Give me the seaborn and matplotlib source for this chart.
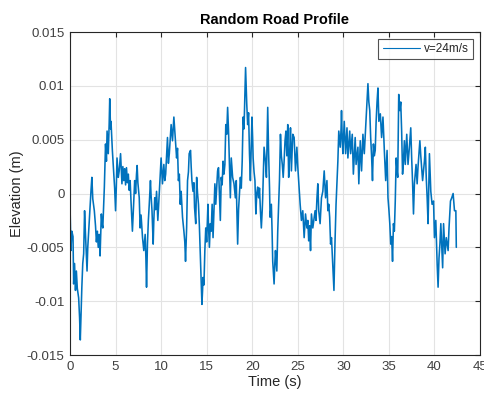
import matplotlib
matplotlib.use("Agg")
import matplotlib.pyplot as plt
import seaborn as sns
import pandas as pd

# time (s) and elevation (mm)
time_s = [
    0.0, 0.1, 0.2, 0.33, 0.4, 0.5, 0.6, 0.7, 0.8, 0.95, 1.05, 1.13, 1.22, 1.3, 1.4, 1.5, 1.6, 1.7, 1.87, 1.95,
    2.05, 2.15, 2.3, 2.4, 2.5, 2.67, 2.8, 2.9, 3.0, 3.1, 3.2, 3.3, 3.44, 3.52, 3.6, 3.77, 3.9, 4.0, 4.07, 4.2,
    4.3, 4.36, 4.45, 4.5, 4.65, 4.8, 4.9, 5.0, 5.08, 5.16, 5.3, 5.4, 5.55, 5.7, 5.8, 5.9, 6.0, 6.1, 6.2, 6.3,
    6.4, 6.5, 6.6, 6.7, 6.85,
    6.93, 7.0, 7.1, 7.2, 7.3, 7.37, 7.45, 7.6, 7.7, 7.8, 7.96, 8.1, 8.25, 8.33, 8.4, 8.5, 8.6, 8.7, 8.83, 8.9,
    9.0, 9.13, 9.2, 9.3, 9.4, 9.5, 9.64, 9.8, 9.9, 10.0, 10.15, 10.3, 10.4, 10.5, 10.6, 10.7, 10.8, 10.9, 11.0, 11.1,
    11.25, 11.4, 11.55, 11.7, 11.8, 11.9, 12.0, 12.1, 12.2, 12.35, 12.5, 12.6, 12.68, 12.8, 12.9, 13.0, 13.08, 13.23, 13.3, 13.38,
    13.5, 13.6, 13.67, 13.8, 13.9, 14.0, 14.1,
    14.2, 14.3, 14.37, 14.48, 14.55, 14.6, 14.7, 14.8, 14.9, 15.0, 15.14, 15.2, 15.3, 15.4, 15.5, 15.6, 15.7, 15.8, 15.9, 16.0,
    16.1, 16.2, 16.3, 16.4, 16.5, 16.6, 16.7, 16.8, 16.9, 17.0, 17.1, 17.2, 17.3, 17.4, 17.5, 17.6, 17.7, 17.85, 18.0, 18.15,
    18.25, 18.3, 18.4, 18.5, 18.6, 18.7, 18.8, 18.9, 19.0, 19.1, 19.2, 19.27, 19.35, 19.4, 19.5, 19.6, 19.7, 19.8, 19.9, 19.97,
    20.05, 20.1, 20.2, 20.3, 20.4, 20.5, 20.6, 20.7, 20.8, 20.9, 21.0, 21.1, 21.15, 21.3,
    21.45, 21.56, 21.63, 21.7, 21.8, 21.9, 21.96, 22.1, 22.18, 22.25, 22.4, 22.48, 22.55, 22.7, 22.8, 22.9, 22.99, 23.1, 23.2, 23.3,
    23.4, 23.5, 23.6, 23.7, 23.8, 23.9, 24.0, 24.1, 24.2, 24.3, 24.45, 24.6, 24.75, 24.9, 25.0, 25.1, 25.26, 25.4, 25.55, 25.7,
    25.85, 26.0, 26.1, 26.2, 26.3, 26.4, 26.5, 26.65, 26.8, 26.9, 27.0, 27.1, 27.2, 27.3, 27.45, 27.6, 27.75, 27.9, 28.05, 28.2,
    28.3, 28.4, 28.5, 28.6,
    28.7, 28.78, 28.85, 28.97, 29.08, 29.2, 29.3, 29.4, 29.5, 29.58, 29.66, 29.75, 29.8, 29.88, 29.95, 30.1, 30.25, 30.4, 30.5, 30.6,
    30.7, 30.8, 30.98, 31.1, 31.2, 31.3, 31.4, 31.6, 31.7, 31.86, 32.0, 32.15, 32.3, 32.45, 32.6, 32.7, 32.8, 32.9, 33.0, 33.1,
    33.2, 33.3, 33.4, 33.5, 33.6, 33.7, 33.8, 33.9, 34.06, 34.2, 34.35, 34.5, 34.65, 34.8, 34.9, 35.0, 35.1, 35.2, 35.3, 35.4,
    35.5, 35.6, 35.7, 35.8, 35.9,
    35.97, 36.08, 36.2, 36.3, 36.4, 36.5, 36.6, 36.7, 36.8, 36.96, 37.1, 37.25, 37.4, 37.5, 37.6, 37.7, 37.8, 37.98, 38.1, 38.2,
    38.3, 38.4, 38.5, 38.6, 38.7, 38.9, 39.0, 39.1, 39.2, 39.3, 39.45, 39.6, 39.74, 39.9, 40.0, 40.15, 40.3, 40.4, 40.5, 40.6,
    40.7, 40.9, 41.0, 41.17, 41.3, 41.5, 41.6, 41.76, 41.9, 42.05, 42.2, 42.35, 42.4,
]
elevation_mm = [
    -1.0, -5.3, -3.5, -4.0, -8.4, -6.5, -9.0, -7.2, -8.8, -9.7, -11.5, -13.6, -11.0, -8.7, -6.5, -5.6, -1.6, -3.8, -7.2, -5.0,
    -3.5, -2.0, 0.2, 1.5, -0.5, -1.6, -3.0, -4.5, -3.5, -5.0, -3.8, -5.8, -1.9, -2.8, -3.2, 0.6, 4.6, 3.0, 5.8, 3.7,
    6.5, 8.8, 6.0, 6.7, 4.0, 1.8, 0.5, -1.6, 0.5, 3.3, 1.5, 2.1, 3.7, 0.9, 2.5, 1.2, 2.3, 0.8, 2.4, 1.0,
    1.8, 0.3, 1.2, -0.8, -3.5,
    -2.0, -0.5, 1.2, 0.0, 1.8, 2.6, 1.0, -0.4, -3.2, -2.0, -4.1, -5.3, -3.8, -6.0, -8.7, -4.7, -2.5, -1.0, 1.2, -0.2,
    -1.6, -4.7, -2.5, -0.4, -1.5, 0.2, -2.5, 0.0, 1.5, 3.3, 0.9, 2.7, 1.2, 1.8, 3.5, 5.2, 2.8, 3.7, 5.0, 6.4,
    4.9, 7.1, 5.2, 3.3, 4.2, 1.2, 1.8, -1.0, 0.2, -2.2, -3.5, -4.5, -6.3, -3.2, 1.2, 2.0, 3.7, 4.0, 2.5, 1.2,
    0.2, 1.0, -1.3, -2.8, 1.5, 0.0, -1.0,
    -3.0, -5.5, -7.5, -10.3, -9.0, -7.8, -8.5, -5.3, -3.2, -4.5, -1.0, -3.0, -5.0, -2.8, -3.5, -1.0, -4.1, -1.5, 0.9, -1.0,
    0.5, 2.1, 2.4, 0.0, -2.5, 1.5, 0.8, 3.0, 1.8, 2.7, 6.4, 5.5, 8.0, 5.8, 2.5, -0.4, 3.3, 1.5, 0.9, -0.4,
    1.2, -1.0, -4.7, -1.5, 0.0, 1.5, 0.5, 3.0, 7.1, 6.0, 9.2, 11.7, 9.5, 8.3, 6.4, 7.5, 3.7, 1.2, 4.5, 7.1,
    5.0, 3.3, 2.0, 1.2, -1.9, 0.0, 0.6, -0.4, 0.5, -1.6, -3.2, -1.5, -0.4, 4.3,
    3.0, 1.5, 5.0, 8.0, 3.7, 0.5, -2.2, -1.0, -3.5, -6.3, -8.4, -6.5, -5.3, -7.2, -3.5, -1.0, 1.2, 5.5, 3.5, 2.7,
    1.5, 3.0, 4.9, 5.8, 3.5, 6.4, 1.5, 3.5, 6.1, 2.1, 5.5, 5.2, 2.1, 4.3, 2.5, 1.2, -1.0, -2.5, -1.6, -4.1,
    -1.9, -3.2, -2.5, -4.4, -3.0, -5.3, -1.9, -3.2, -2.2, -1.6, -2.5, -0.5, 0.9, -1.6, -2.8, -0.4, 0.2, 2.1, -0.4, 1.2,
    -1.6, -1.0, -2.2, -4.7,
    -4.1, -5.5, -6.6, -9.0, -4.7, -1.0, 1.0, 3.0, 5.8, 5.0, 4.3, 6.0, 7.7, 5.0, 3.7, 6.7, 3.7, 6.1, 3.3, 4.5,
    5.8, 3.7, 5.5, 1.8, 3.5, 5.2, 2.7, 4.3, 0.9, 4.9, 2.1, 5.5, 3.7, 6.1, 8.6, 10.2, 8.5, 7.7, 5.2, 3.5,
    1.2, 4.6, 3.5, 4.0, 6.7, 8.5, 9.8, 6.7, 7.4, 5.2, 7.1, 4.0, 1.2, 4.0, -0.4, -1.5, -2.8, -4.7, -4.0, -6.3,
    -2.8, -3.5, -0.7, 3.3, 2.1,
    1.5, 9.2, 7.7, 8.5, 5.8, 1.8, 3.0, 4.9, 2.7, 5.5, 2.7, 4.3, 6.1, 3.3, 1.0, -1.9, 0.9, 2.7, 0.9, 2.5,
    3.7, 4.9, 3.5, 2.4, 1.2, 3.0, 4.3, 1.5, -0.4, -2.8, 3.7, 0.2, -1.0, -0.7, -4.1, -2.5, -6.6, -8.7, -6.0, -4.7,
    -2.8, -6.9, -2.8, -5.6, -4.1, -5.3, -3.2, -0.7, -0.4, 0.0, -1.6, -1.6, -5.0,
]
series_label = "v=24m/s"
x_ticks = [0, 5, 10, 15, 20, 25, 30, 35, 40, 45]
y_ticks = [-0.015, -0.01, -0.005, 0, 0.005, 0.01, 0.015]
y_tick_labels = ["-0.015", "-0.01", "-0.005", "0", "0.005", "0.01", "0.015"]

df = pd.DataFrame({"Time": time_s, "Elevation": [v / 1000.0 for v in elevation_mm]})

sns.set_style("white")
plt.rcParams["font.family"] = ["Liberation Sans", "DejaVu Sans"]

fig = plt.figure(figsize=(4.84, 3.96), dpi=100)
ax = fig.add_axes([70 / 484, 1 - 355 / 396, 410 / 484, 323 / 396])

sns.lineplot(data=df, x="Time", y="Elevation", ax=ax, color="#0072BD",
             linewidth=1.15, estimator=None, sort=False, label=series_label)

ax.set_xlim(0, 45)
ax.set_ylim(-0.015, 0.015)
ax.set_xticks(x_ticks)
ax.set_yticks(y_ticks)
ax.set_yticklabels(y_tick_labels)
ax.grid(True, color="#e3e3e3", linewidth=0.8)
ax.set_axisbelow(True)
for s in ax.spines.values():
    s.set_color("#262626")
    s.set_linewidth(0.8)
    s.set_visible(True)
ax.tick_params(direction="in", length=3.5, width=0.8, colors="#262626",
               labelsize=9.5, top=True, right=True, labelcolor="#404040", pad=4)
ax.set_xlabel("Time (s)", fontsize=10.5, color="#262626", labelpad=2)
ax.set_ylabel("Elevation (m)", fontsize=10.5, color="#262626", labelpad=2)
ax.set_title("Random Road Profile", fontsize=10.5, fontweight="bold", color="black", pad=6)

leg = ax.legend(loc="upper right", fontsize=8.5, frameon=True, fancybox=False,
                handlelength=3.2, borderaxespad=0.6, borderpad=0.35, handletextpad=0.3)
leg.get_frame().set_edgecolor("#262626")
leg.get_frame().set_linewidth(0.8)
for line in leg.get_lines():
    line.set_linewidth(0.8)

fig.savefig("out.png", dpi=100)
